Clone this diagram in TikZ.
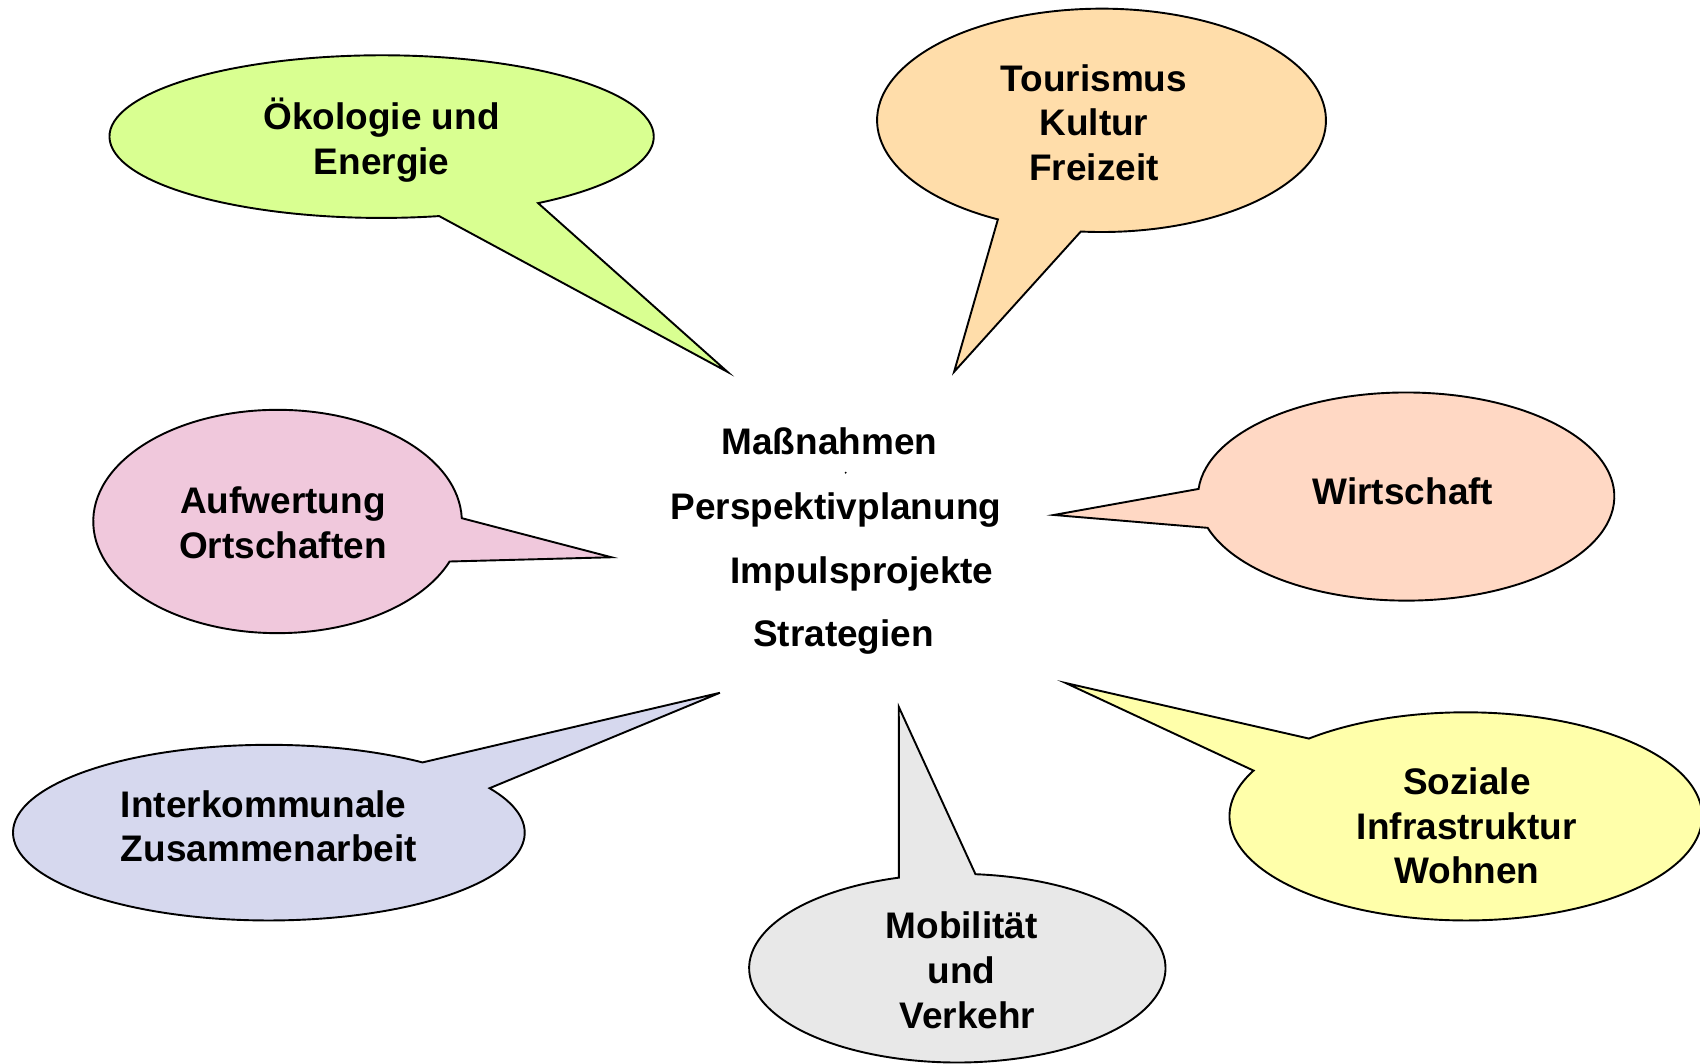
\documentclass[tikz,border=0pt]{standalone}
\usepackage{fontspec}
\setmainfont{Liberation Sans}
\definecolor{cgreen}{RGB}{217,255,145}
\definecolor{corange}{RGB}{255,221,170}
\definecolor{cpink}{RGB}{240,200,220}
\definecolor{cpeach}{RGB}{255,216,196}
\definecolor{clav}{RGB}{214,216,238}
\definecolor{cgrey}{RGB}{232,232,232}
\definecolor{cyel}{RGB}{255,255,170}
\begin{document}
\begin{tikzpicture}[x=0.01cm,y=0.01cm,
  bubble/.style={draw=black, line width=0.5pt, line join=miter},
  lbl/.style={font=\fontsize{9.7}{11.7}\selectfont\bfseries, align=center, inner sep=0pt},
  ctr/.style={font=\fontsize{9.7}{11.7}\selectfont\bfseries, inner sep=0pt}]
\useasboundingbox (0,0) rectangle (1568,981);
% bubbles
\filldraw[bubble, fill=cgreen] (352,855) ++(-77.8:251 and 75) arc[start angle=-77.8, end angle=-414.9, x radius=251, y radius=75] -- (671,638) -- cycle;
\filldraw[bubble, fill=corange] (1016,870) ++(-117.5:207 and 103) arc[start angle=-117.5, end angle=-455.3, x radius=207, y radius=103] -- (880,638) -- cycle;
\filldraw[bubble, fill=cpink] (256,500) ++(1.7:170 and 103) arc[start angle=1.7, end angle=339, x radius=170, y radius=103] -- (564,467) -- cycle;
\filldraw[bubble, fill=cpeach] (1297,523) ++(175.8:192 and 96) arc[start angle=175.8, end angle=-162.5, x radius=192, y radius=96] -- (972,506) -- cycle;
\filldraw[bubble, fill=clav] (248,213) ++(53.1:236 and 81) arc[start angle=53.1, end angle=390.4, x radius=236, y radius=81] -- (664,342) -- cycle;
\filldraw[bubble, fill=cgrey] (883,88) ++(106.3:192 and 87) arc[start angle=106.3, end angle=445, x radius=192, y radius=87] -- (829,329) -- cycle;
\filldraw[bubble, fill=cyel] (1352,228) ++(131.6:218 and 96) arc[start angle=131.6, end angle=-206.1, x radius=218, y radius=96] -- (983,351) -- cycle;
% labels
\node[lbl] (eco) at (352,852) {Ökologie und\\Energie};
\node[lbl] (tour) at (1009,868) {Tourismus\\Kultur\\Freizeit};
\node[lbl] (auf) at (261,499) {Aufwertung\\Ortschaften};
\node[lbl] (wirt) at (1294,528) {Wirtschaft};
\node[lbl, align=left] (inter) at (248,219) {Interkommunale\\Zusammenarbeit};
\node[lbl] (mob) at (887,86) {Mobilität\\und\\\hspace*{3pt}Verkehr};
\node[lbl] (soz) at (1353,219) {Soziale\\Infrastruktur\\Wohnen};
% centre
\node[ctr] (m1) at (765,574) {Maßnahmen};
\node[ctr] (m2) at (771,511) {Perspektivplanung};
\node[ctr] (m3) at (795,452) {Impulsprojekte};
\node[ctr] (m4) at (778,393) {Strategien};
\fill (780,545) circle[radius=1];
\end{tikzpicture}
\end{document}
